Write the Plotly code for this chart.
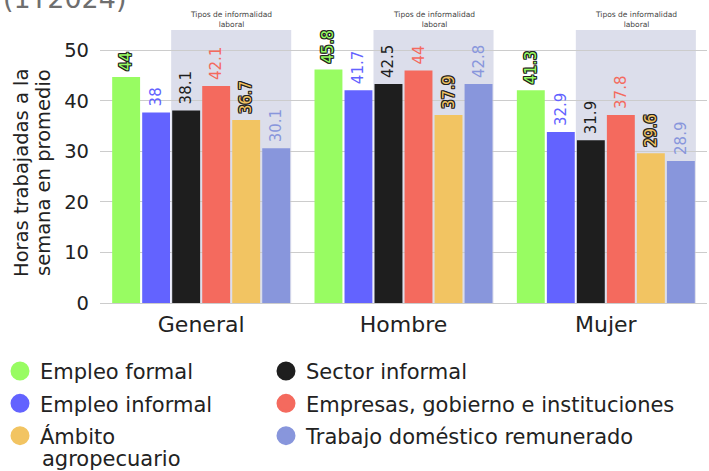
import plotly.graph_objects as go

categories = ["General", "Hombre", "Mujer"]

series_names = [
    "Empleo formal",
    "Empleo informal",
    "Sector informal",
    "Empresas, gobierno e instituciones",
    "Ámbito",
    "Trabajo doméstico remunerado",
]
series_colors = ["#98fc62", "#6363ff", "#1e1e1e", "#f46a5e", "#f2c462", "#8896dc"]
legend_column = ["legend", "legend", "legend2", "legend2", "legend", "legend2"]
legend_ranks = [1, 2, 1, 2, 3, 3]
ambito_second_line = "agropecuario"

# bar heights as drawn
bar_values = [
    [44.7, 46.2, 42.1],   # Empleo formal
    [37.7, 42.1, 33.8],   # Empleo informal
    [38.1, 43.3, 32.2],   # Sector informal
    [42.9, 46.0, 37.2],   # Empresas, gobierno e instituciones
    [36.2, 37.2, 29.6],   # Ámbito agropecuario
    [30.6, 43.3, 28.1],   # Trabajo doméstico remunerado
]
# value labels as printed
bar_labels = [
    ["44", "45.8", "41.3"],
    ["38", "41.7", "32.9"],
    ["38.1", "42.5", "31.9"],
    ["42.1", "44", "37.8"],
    ["36.7", "37.9", "29.6"],
    ["30.1", "42.8", "28.9"],
]
outlined = [True, False, False, False, True, False]

y_ticks = [0, 10, 20, 30, 40, 50]
band_label = "Tipos de informalidad<br>laboral"
title_text = "(1T2024)"
y_title_lines = ["Horas trabajadas a la", "semana en promedio"]

FONT = "DejaVu Sans, sans-serif"
BARGAP = 0.11
GROUPGAP = 0.07
PLOT_W = 607.0
PLOT_H = 273.0

fig = go.Figure()
outline = ("-1px -1px 0 #222, 1px -1px 0 #222, -1px 1px 0 #222, 1px 1px 0 #222, "
           "0 1px 0 #222, 0 -1px 0 #222, 1px 0 0 #222, -1px 0 0 #222")

for i, name in enumerate(series_names):
    fig.add_trace(go.Bar(
        x=categories, y=bar_values[i], name=name,
        marker=dict(color=series_colors[i], line=dict(width=0)),
        text=bar_labels[i], texttemplate="\u2009%{text}",
        textposition="outside", textangle=-90,
        textfont=dict(color=series_colors[i], size=15, family=FONT,
                      shadow=outline if outlined[i] else "none"),
        constraintext="none", cliponaxis=False, showlegend=False,
        hoverinfo="skip",
    ))

for i, name in enumerate(series_names):
    fig.add_trace(go.Scatter(
        x=[None], y=[None], mode="markers", name=name,
        marker=dict(symbol="circle", size=16, color=series_colors[i],
                    line=dict(color=series_colors[i], width=3)),
        legend=legend_column[i], legendrank=legend_ranks[i],
        legendgroup="g%d" % i, showlegend=True,
    ))

group_w = 1 - BARGAP
slot = group_w / len(series_names)
for ci, cat in enumerate(categories):
    x0 = ci - group_w / 2 + 2 * slot
    x1 = ci + group_w / 2
    fig.add_shape(type="rect", xref="x", yref="y", x0=x0, x1=x1, y0=0, y1=54,
                  fillcolor="#dcdeeb", line=dict(width=0), layer="below")
    fig.add_annotation(x=(x0 + x1) / 2, y=54, xref="x", yref="y", text=band_label,
                       showarrow=False, yanchor="bottom", yshift=-1,
                       font=dict(size=7.5, color="#444", family=FONT))

# title (cut off at the top in the reference)
fig.add_annotation(text=title_text, xref="paper", yref="paper", x=0, y=1.0,
                   xanchor="left", yanchor="bottom", xshift=-99, yshift=14, showarrow=False,
                   font=dict(size=27, color="#6e6e6e", family=FONT))

# y axis title, two tight lines
for k, (line, xpx) in enumerate(zip(y_title_lines, [21, 43])):
    fig.add_annotation(text=line, xref="paper", yref="paper", x=0, y=(303 - 173) / PLOT_H,
                       xshift=xpx - 100, textangle=-90, showarrow=False,
                       xanchor="center", yanchor="middle",
                       font=dict(size=19.5, color="#222", family=FONT))

# second line of the "Ámbito agropecuario" legend entry
fig.add_annotation(text=ambito_second_line, xref="paper", yref="paper", x=0,
                   y=(303 - 459) / PLOT_H, xshift=40 - 100, xanchor="left", yanchor="middle",
                   showarrow=False, font=dict(size=21, color="#222", family=FONT))

legend_common = dict(orientation="v", xref="container", yref="container", y=0.255,
                     xanchor="left", yanchor="top",
                     font=dict(size=21, color="#222", family=FONT),
                     bgcolor="rgba(0,0,0,0)", tracegroupgap=2)

fig.update_layout(
    width=709, height=471,
    margin=dict(l=100, r=2, t=30, b=168, autoexpand=False),
    paper_bgcolor="white", plot_bgcolor="white",
    barmode="group", bargap=BARGAP, bargroupgap=GROUPGAP,
    font=dict(family=FONT, color="#222"),
    xaxis=dict(range=[-0.5, 2.5], showgrid=False, showline=False, ticks="",
               tickfont=dict(size=22, color="#222"), ticklabelstandoff=6),
    yaxis=dict(range=[0, 54], tickvals=y_ticks, showgrid=True, gridcolor="#cccccc",
               gridwidth=1, zeroline=True, zerolinecolor="#cccccc", zerolinewidth=1,
               showline=False, ticks="", ticklabelstandoff=10,
               tickfont=dict(size=19.5, color="#222")),
    legend=dict(x=0.0, **legend_common),
    legend2=dict(x=266 / 709, **legend_common),
    showlegend=True,
)

fig.write_html("out.html")
